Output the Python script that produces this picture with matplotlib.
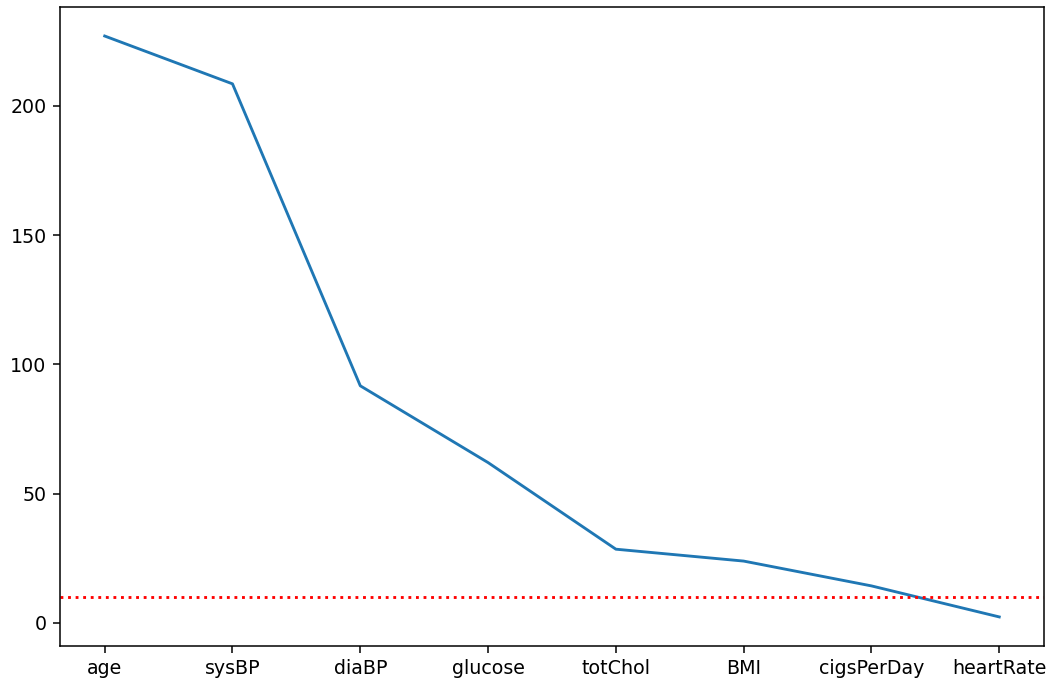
import matplotlib
matplotlib.use("Agg")
import matplotlib.pyplot as plt

# Feature scores, sorted from highest to lowest
features = ["age", "sysBP", "diaBP", "glucose", "totChol", "BMI", "cigsPerDay", "heartRate"]
scores = [227.0, 208.5, 91.7, 62.0, 28.5, 23.9, 14.3, 2.3]
threshold = 10

dpi = 137
fig = plt.figure(figsize=(1054 / dpi, 684 / dpi), dpi=dpi)
ax = fig.add_axes([0.0569, 0.0556, 0.9336, 0.9342])

ax.plot(features, scores)
ax.axhline(threshold, color="red", linestyle=":")

fig.savefig("out.png", dpi=dpi)
